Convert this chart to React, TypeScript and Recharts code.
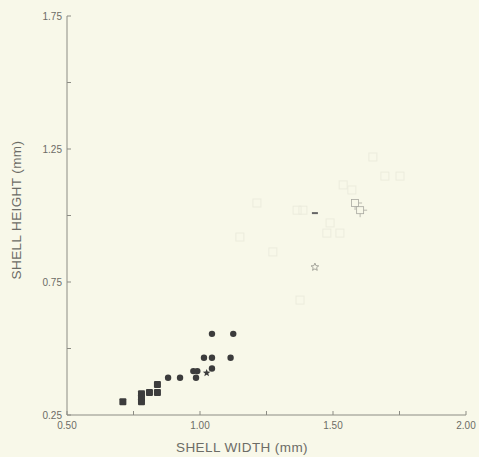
import { Scatter, ScatterChart, XAxis, YAxis } from "recharts";

// Shell height vs width scatter, reproduced from a scanned figure.

const BG = "#f8f8e9";
const INK = "#3c3c3c";
const AXIS = "#8c8c84";
const TEXT = "#6c6c66";
const FONT = "'Liberation Sans', Arial, sans-serif";

if (typeof document !== "undefined") {
  document.body.style.margin = "0";
  document.body.style.background = BG;
}

// filled squares
const squareX = [0.71, 0.78, 0.78, 0.78, 0.81, 0.84, 0.84];
const squareY = [0.3, 0.3, 0.315, 0.33, 0.335, 0.335, 0.365];

// filled circles
const circleX = [0.88, 0.925, 0.975, 0.99, 0.985, 1.015, 1.045, 1.045, 1.045, 1.125, 1.115];
const circleY = [0.39, 0.39, 0.415, 0.415, 0.39, 0.465, 0.465, 0.555, 0.425, 0.555, 0.465];

// filled star
const starX = [1.025];
const starY = [0.408];

// faint open squares (barely visible in the scan)
const faintX = [1.695, 1.752, 1.65, 1.538, 1.571, 1.489, 1.477, 1.526, 1.387, 1.214, 1.15, 1.274, 1.376, 1.365];
const faintY = [1.148, 1.148, 1.22, 1.115, 1.096, 0.972, 0.934, 0.934, 1.02, 1.047, 0.919, 0.863, 0.682, 1.02];

// open squares with crosses
const crossX = [1.583, 1.602];
const crossY = [1.047, 1.02];

// dark dash and open star
const dashX = [1.432];
const dashY = [1.009];
const openStarX = [1.432];
const openStarY = [0.806];

const xTicks = [0.5, 0.75, 1.0, 1.25, 1.5, 1.75, 2.0];
const xLabels = ["0.50", "", "1.00", "", "1.50", "", "2.00"];
const yTicks = [0.25, 0.5, 0.75, 1.0, 1.25, 1.5, 1.75];
const yLabels = ["0.25", "", "0.75", "", "1.25", "", "1.75"];

const pts = (xs: number[], ys: number[]) => xs.map((x, i) => ({ x, y: ys[i] }));

function starPath(cx: number, cy: number, ro: number, ri: number) {
  let d = "";
  for (let i = 0; i < 10; i++) {
    const r = i % 2 === 0 ? ro : ri;
    const a = -Math.PI / 2 + (i * Math.PI) / 5;
    d += `${i === 0 ? "M" : "L"}${cx + r * Math.cos(a)},${cy + r * Math.sin(a)}`;
  }
  return d + "Z";
}

const SquareShape = (p: any) => (
  <rect x={p.cx - 3.5} y={p.cy - 3.5} width={7} height={7} rx={1} fill={INK} />
);
const CircleShape = (p: any) => <circle cx={p.cx} cy={p.cy} r={3.2} fill={INK} />;
const StarShape = (p: any) => <path d={starPath(p.cx, p.cy, 4, 1.7)} fill={INK} />;
const FaintShape = (p: any) => (
  <rect x={p.cx - 4} y={p.cy - 4} width={8} height={8} fill="none" stroke="#ececdd" strokeWidth={1} />
);
const CrossShape = (p: any) => (
  <g stroke="#a8a8a0" strokeWidth={0.8} fill="none">
    <rect x={p.cx - 3.5} y={p.cy - 3.5} width={7} height={7} />
    <line x1={p.cx + 3.5} y1={p.cy} x2={p.cx + 7} y2={p.cy} />
    <line x1={p.cx} y1={p.cy + 3.5} x2={p.cx} y2={p.cy + 7} />
  </g>
);
const DashShape = (p: any) => <rect x={p.cx - 3} y={p.cy - 1} width={6} height={2} fill="#666" />;
const OpenStarShape = (p: any) => (
  <path d={starPath(p.cx, p.cy, 4, 1.8)} fill="none" stroke="#909088" strokeWidth={0.8} />
);

function XTick(props: any) {
  const { x, y, payload } = props;
  const i = xTicks.indexOf(payload.value);
  return (
    <g>
      <line x1={x} y1={y} x2={x} y2={y - 4} stroke={AXIS} strokeWidth={1} />
      <text x={x} y={y + 14} textAnchor="middle" fontSize={10} fontFamily={FONT} fill={TEXT}>
        {xLabels[i] ?? ""}
      </text>
    </g>
  );
}

function YTick(props: any) {
  const { x, y, payload } = props;
  const i = yTicks.indexOf(payload.value);
  return (
    <g>
      <line x1={x} y1={y} x2={x + 4} y2={y} stroke={AXIS} strokeWidth={1} />
      <text x={x - 5} y={y + 3.5} textAnchor="end" fontSize={10} fontFamily={FONT} fill={TEXT}>
        {yLabels[i] ?? ""}
      </text>
    </g>
  );
}

export default function App() {
  return (
    <div style={{ position: "relative", width: 479, height: 457, background: BG, overflow: "hidden" }}>
      <ScatterChart width={479} height={457} margin={{ top: 16, right: 13, bottom: 0, left: 0 }}>
        <XAxis
          type="number"
          dataKey="x"
          domain={[0.5, 2]}
          ticks={xTicks}
          height={42}
          tickSize={0}
          tickMargin={0}
          tickLine={false}
          axisLine={{ stroke: AXIS, strokeWidth: 1 }}
          tick={<XTick />}
          interval={0}
        />
        <YAxis
          type="number"
          dataKey="y"
          domain={[0.25, 1.75]}
          ticks={yTicks}
          width={67}
          tickSize={0}
          tickMargin={0}
          tickLine={false}
          axisLine={{ stroke: AXIS, strokeWidth: 1 }}
          tick={<YTick />}
          interval={0}
        />
        <Scatter data={pts(faintX, faintY)} shape={FaintShape} isAnimationActive={false} />
        <Scatter data={pts(crossX, crossY)} shape={CrossShape} isAnimationActive={false} />
        <Scatter data={pts(dashX, dashY)} shape={DashShape} isAnimationActive={false} />
        <Scatter data={pts(openStarX, openStarY)} shape={OpenStarShape} isAnimationActive={false} />
        <Scatter data={pts(squareX, squareY)} shape={SquareShape} isAnimationActive={false} />
        <Scatter data={pts(circleX, circleY)} shape={CircleShape} isAnimationActive={false} />
        <Scatter data={pts(starX, starY)} shape={StarShape} isAnimationActive={false} />
      </ScatterChart>
      <div
        style={{
          position: "absolute",
          left: 0,
          width: 484,
          top: 440,
          textAlign: "center",
          fontFamily: FONT,
          fontSize: 13.5,
          letterSpacing: 0.4,
          color: TEXT,
          lineHeight: "15px",
        }}
      >
        SHELL WIDTH (mm)
      </div>
      <div
        style={{
          position: "absolute",
          left: 17,
          top: 210,
          transform: "translate(-50%, -50%) rotate(-90deg)",
          whiteSpace: "nowrap",
          fontFamily: FONT,
          fontSize: 13.5,
          letterSpacing: 0.4,
          color: TEXT,
          lineHeight: "16px",
        }}
      >
        SHELL HEIGHT (mm)
      </div>
    </div>
  );
}
